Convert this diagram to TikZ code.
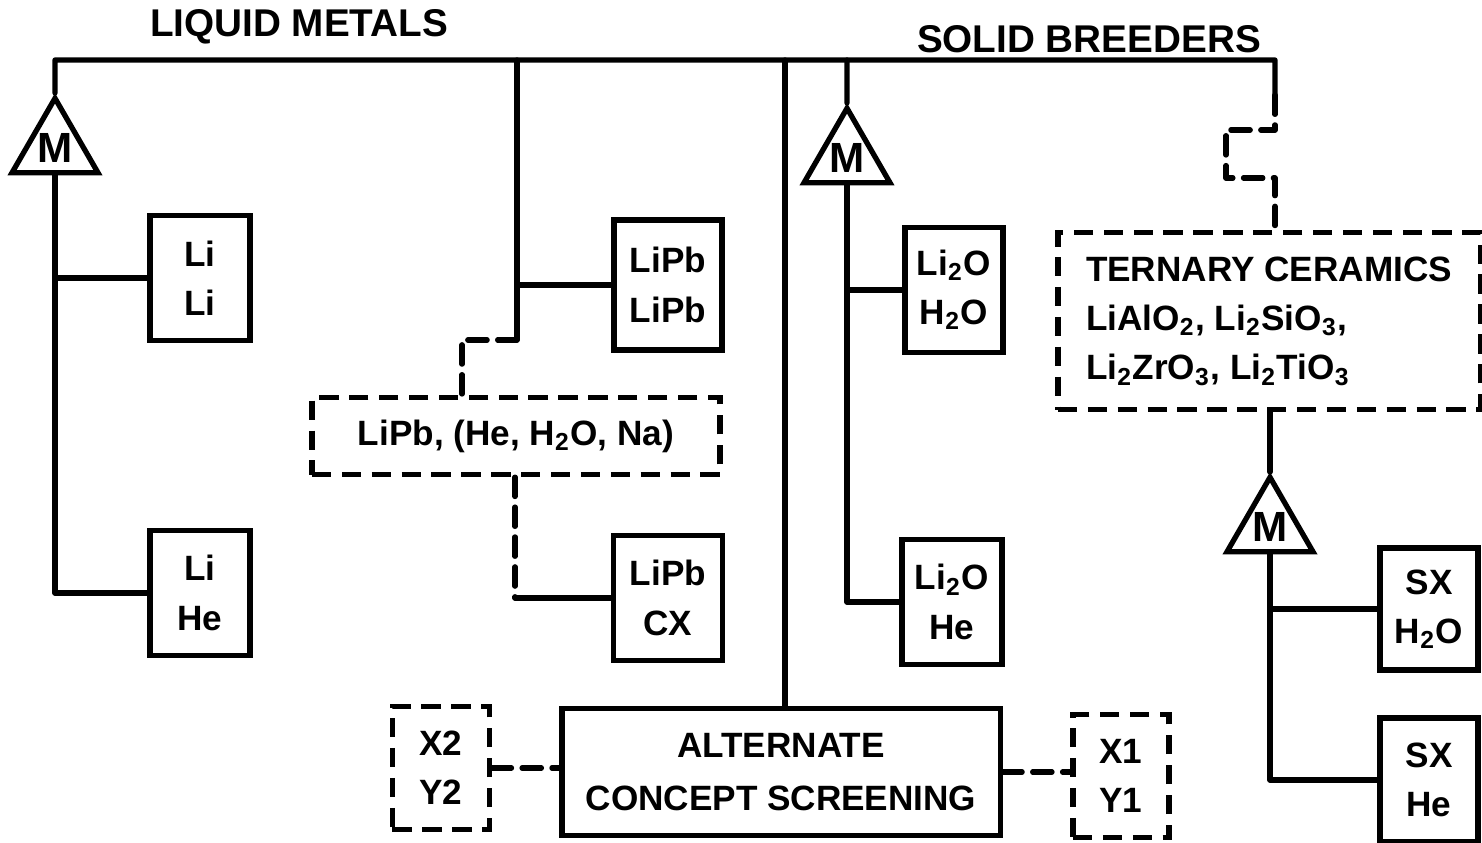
\documentclass[tikz,border=0pt]{standalone}
\usepackage{fontspec}
\setmainfont{Liberation Sans}
\usetikzlibrary{shapes.geometric, positioning, calc}
\newcommand{\chsub}[1]{\textsubscript{#1}}

\begin{document}
\begin{tikzpicture}[
    x=0.01cm, y=-0.01cm,
    font=\bfseries\fontsize{10}{14}\selectfont,
    wire/.style={line width=1.5pt, line cap=round, line join=round},
    dwire/.style={wire, dash pattern=on 5.5pt off 3pt},
    box/.style={
        rectangle, draw, line width=1.5pt, align=center, inner sep=2pt,
        minimum width=1cm, minimum height=1.25cm
    },
    dbox/.style={box, dash pattern=on 5.5pt off 3pt},
    mixer/.style={
        regular polygon, regular polygon sides=3, draw, line width=1.5pt,
        minimum size=0.97cm, inner sep=0pt, font=\bfseries\fontsize{12}{14}\selectfont
    },
    group/.style={font=\bfseries\fontsize{11}{13}\selectfont},
]
\useasboundingbox (0,0) rectangle (1482,843);

% --- Coordinates -------------------------------------------------------------
% bus along the top, column drops at x = 55 / 517 / 785 / 847 / 1275
\coordinate (busW) at (55,60);
\coordinate (busE) at (1275,60);
\coordinate (c2)   at (517,60);
\coordinate (c3)   at (785,60);
\coordinate (c4)   at (847,60);

% --- Liquid metals -----------------------------------------------------------
\node[group] (lqm) at (299,27) {LIQUID METALS};
\node[mixer] (mL) at (55,148) {M};
\node[box] (lili) at (200,278) {Li\\Li};
\node[box] (lihe) at (200,593) {Li\\He};

\node[box, minimum width=1.08cm, minimum height=1.3cm] (lipbA) at (668,285) {LiPb\\LiPb};
\node[dbox, minimum width=4.08cm, minimum height=0.77cm] (lipbmix) at (516,436)
    {LiPb, (He, H\chsub{2}O, Na)};
\node[box, minimum width=1.09cm] (lipbcx) at (668,598) {LiPb\\CX};
\coordinate (j1) at (517,340);
\coordinate (j2) at (462,340);
\coordinate (j3) at (515,598);

% --- Solid breeders ----------------------------------------------------------
\node[group] (sb) at (1089,39) {SOLID BREEDERS};
\node[mixer] (mS) at (847,158) {M};
\node[box, minimum width=0.98cm] (li2oA) at (954,290) {Li\chsub{2}O\\H\chsub{2}O};
\node[box] (li2oB) at (952,602) {Li\chsub{2}O\\He};

\node[dbox, minimum width=4.22cm, minimum height=1.77cm, align=left] (tern) at (1269,321)
    {TERNARY CERAMICS\\LiAlO\chsub{2}, Li\chsub{2}SiO\chsub{3},\\Li\chsub{2}ZrO\chsub{3}, Li\chsub{2}TiO\chsub{3}};
\node[mixer] (mT) at (1270,527) {M};
\node[box, minimum width=0.98cm, minimum height=1.22cm] (sxA) at (1429,609) {SX\\H\chsub{2}O};
\node[box, minimum width=0.98cm, minimum height=1.24cm] (sxB) at (1429,780) {SX\\He};
\coordinate (k0) at (1275,95);
\coordinate (k1) at (1275,130);
\coordinate (k2) at (1226,130);
\coordinate (k3) at (1226,178);
\coordinate (k4) at (1275,178);

% --- Screening ---------------------------------------------------------------
\node[box, minimum width=4.38cm, minimum height=1.27cm,
      font=\bfseries\fontsize{10}{15}\selectfont] (alt) at (781,772)
    {ALTERNATE\\CONCEPT SCREENING};
\node[dbox, minimum width=0.97cm, minimum height=1.23cm] (xy2) at (441,768) {X2\\Y2};
\node[dbox, minimum width=0.96cm, minimum height=1.23cm] (xy1) at (1121,776) {X1\\Y1};

% --- Bus and liquid metal branches -------------------------------------------
\draw[wire] (mL.north) -- (busW) -- (busE) -- (k0);
\draw[wire] (mL.south) |- (lihe.west);
\draw[wire] (mL.south |- lili.west) -- (lili.west);
\draw[wire] (c2) -- (j1);
\draw[wire] (c2 |- lipbA.west) -- (lipbA.west);
\draw[dwire] (j1) -- (j2) -- (j2 |- lipbmix.north);
\draw[dwire] (j3 |- lipbmix.south) -- (j3);
\draw[wire] (j3) -- (lipbcx.west);

% --- Solid breeder branches --------------------------------------------------
\draw[wire] (c4) -- (mS.north);
\draw[wire] (mS.south) |- (li2oB.west);
\draw[wire] (mS.south |- li2oA.west) -- (li2oA.west);
\draw[dwire] (k0) -- (k1) -- (k2) -- (k3) -- (k4) -- (k4 |- tern.north);
\draw[wire] (mT.north |- tern.south) -- (mT.north);
\draw[wire] (mT.south) |- (sxB.west);
\draw[wire] (mT.south |- sxA.west) -- (sxA.west);

% --- Screening links ---------------------------------------------------------
\draw[wire] (c3) -- (c3 |- alt.north);
\draw[dwire] (xy2.east) -- (xy2.east -| alt.west);
\draw[dwire] (alt.east) -- (alt.east -| xy1.west);

\end{tikzpicture}
\end{document}
